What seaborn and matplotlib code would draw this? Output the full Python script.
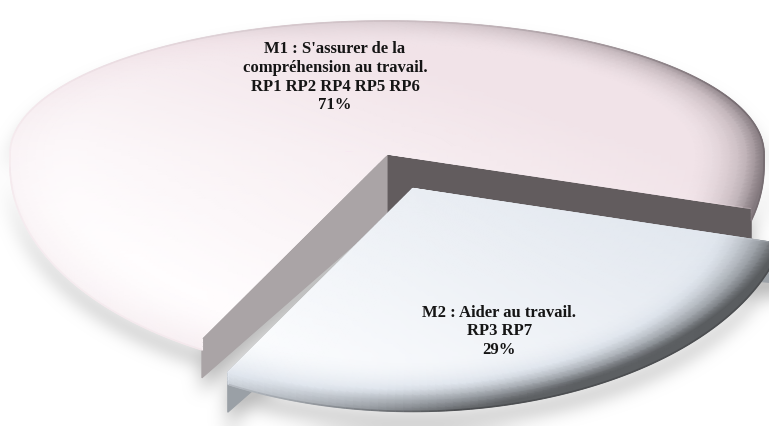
import numpy as np
import matplotlib
matplotlib.use("Agg")
import matplotlib.pyplot as plt
from matplotlib.patches import Polygon
from matplotlib.path import Path
from matplotlib.collections import LineCollection
import seaborn as sns

# ---- data -------------------------------------------------------------
categories = ["M1 : S'assurer de la\ncompréhension au travail.",
              "M2 : Aider au travail."]
groups = ["RP1 RP2 RP4 RP5 RP6", "RP3 RP7"]
shares = [71, 29]

# ---- style ------------------------------------------------------------
sns.set_theme(style="white")
plt.rcParams["font.family"] = ["Liberation Serif", "DejaVu Serif"]

face_cmaps = [
    sns.blend_palette(["#fffdfe", "#f1e3e8", "#c6b9be", "#776d72"], as_cmap=True),
    sns.blend_palette(["#fbfcfe", "#dfe5ed", "#9ca1a7", "#4c4e51"], as_cmap=True),
]
rim_dir = [0.0, -35.0]            # direction (deg) where the rim is darkest
wall_colors = [["#625c5e", "#aaa4a6"], ["#9aa0a6", "#9aa0a6"]]
explode = [0.0, 0.177]
label_radius = [0.60, 0.71]
label_turn = [-9.5, -4.0]

W, H = 769, 427
fig = plt.figure(figsize=(W / 100, H / 100), dpi=100)
ax = fig.add_axes([0, 0, 1, 1])
ax.set_xlim(0, W)
ax.set_ylim(H, 0)
ax.axis("off")

# ---- tilted view of the pie disk -------------------------------------
XC, YC = 387.0, 155.0      # centre of the pie on the canvas
AX = 377.0                 # horizontal radius
B_FAR, B_NEAR = 133.0, 211.0   # vertical radius behind / in front of centre
SIDE = 12.0                # rim thickness
WALL_IN, WALL_OUT = 62.0, 40.0  # depth of the cut faces at centre / at rim
START = -15.0


def project(X, Y, Z=0.0):
    X = np.asarray(X, float)
    Y = np.asarray(Y, float)
    by = np.where(Y > 0, B_FAR, B_NEAR)
    return XC + AX * X, YC - by * Y + SIDE * Z


fr = np.array(shares, float) / np.sum(shares)
edges = START + 360.0 * np.concatenate([[0.0], np.cumsum(fr)])
slices = []
for i in range(len(shares)):
    a0, a1 = edges[i], edges[i + 1]
    mid = np.deg2rad(0.5 * (a0 + a1))
    ox, oy = explode[i] * np.cos(mid), explode[i] * np.sin(mid)
    slices.append(dict(a0=a0, a1=a1, mid=mid, ox=ox, oy=oy))


def shade(i, X, Y, r, phi, zlev):
    base = 0.33 * np.clip(0.62 + 0.75 * (0.7 * X + 0.7 * Y), 0, 1)
    e = np.clip((r - 0.80) / 0.20, 0, 1) ** 2 + 0.4 * zlev
    q = (0.5 + 0.5 * np.cos(phi - np.deg2rad(rim_dir[i]))) ** 2.2
    m = np.clip(e * (0.10 + 0.90 * q), 0, 1)
    return np.clip(base + (1 - base) * m * 0.92, 0, 1)


def grid_triangles(nr, nc, start):
    idx = start + np.arange(nr * nc).reshape(nr, nc)
    a = idx[:-1, :-1].ravel()
    b = idx[:-1, 1:].ravel()
    c = idx[1:, :-1].ravel()
    d = idx[1:, 1:].ravel()
    return np.vstack([np.column_stack([a, b, d]), np.column_stack([a, d, c])])


def slice_mesh(i, s):
    nphi = max(40, int(abs(s["a1"] - s["a0"]) * 0.8))
    phi = np.deg2rad(np.linspace(s["a0"], s["a1"], nphi))
    # outer rim: band under the arc
    zl = np.linspace(0, 1, 4)
    PZ, ZZ = np.meshgrid(phi, zl)
    Xs, Ys = np.cos(PZ), np.sin(PZ)
    sx, sy = project(s["ox"] + Xs, s["oy"] + Ys, ZZ)
    sv = shade(i, Xs, Ys, np.ones_like(Xs), PZ, ZZ)
    tri_s = grid_triangles(len(zl), nphi, 0)
    # flat top
    rr = np.linspace(0, 1, 45)
    PT, RT = np.meshgrid(phi, rr)
    Xt, Yt = RT * np.cos(PT), RT * np.sin(PT)
    tx, ty = project(s["ox"] + Xt, s["oy"] + Yt, 0.0)
    tv = shade(i, Xt, Yt, RT, PT, 0.0)
    tri_t = grid_triangles(len(rr), nphi, sx.size)
    x = np.r_[sx.ravel(), tx.ravel()]
    y = np.r_[sy.ravel(), ty.ravel()]
    v = np.r_[sv.ravel(), tv.ravel()]
    tris = np.vstack([tri_s, tri_t])
    # visible outer contour: rim bottom in front, top arc behind
    front = (s["oy"] + np.sin(phi)) < 0
    cx = np.where(front, sx[-1], tx[-1])
    cy = np.where(front, sy[-1], ty[-1])
    cv = np.where(front, sv[-1], tv[-1])
    outline = dict(contour=(cx, cy, cv),
                   e0=(tx[:, 0], ty[:, 0], tv[:, 0]), e1=(tx[:, -1], ty[:, -1], tv[:, -1]),
                   s0=(sx[:, 0], sy[:, 0], sv[:, 0]), s1=(sx[:, -1], sy[:, -1], sv[:, -1]))
    silhouette = np.column_stack([np.r_[tx[0, 0], tx[-1], sx[-1][::-1]],
                                  np.r_[ty[0, 0], ty[-1], sy[-1][::-1]]])
    return x, y, v, tris, outline, silhouette


def wall_poly(s, ang):
    t = np.deg2rad(ang)
    cx, cy = project(s["ox"], s["oy"])
    ex, ey = project(s["ox"] + np.cos(t), s["oy"] + np.sin(t))
    return np.array([[cx, cy], [ex, ey], [ex, ey + WALL_OUT], [cx, cy + WALL_IN]], float)


meshes = [slice_mesh(i, s) for i, s in enumerate(slices)]

# ---- soft shadow under the pie ---------------------------------------
gx, gy = np.meshgrid(np.arange(W) + 0.5, np.arange(H) + 0.5)
pix = np.column_stack([gx.ravel(), gy.ravel()])
mask = np.zeros(W * H, bool)
for s, mesh in zip(slices, meshes):
    for poly in (mesh[5], wall_poly(s, s["a0"]), wall_poly(s, s["a1"])):
        mask |= Path(poly).contains_points(pix)
mask = mask.reshape(H, W).astype(float)
shift = 14
mask = np.vstack([np.zeros((shift, W)), mask[:-shift]])


def box_blur(a, r, axis):
    k = 2 * r + 1
    pad = [(0, 0), (0, 0)]
    pad[axis] = (r + 1, r)
    c = np.cumsum(np.pad(a, pad, mode="edge"), axis=axis)
    if axis == 0:
        return (c[k:] - c[:-k]) / k
    return (c[:, k:] - c[:, :-k]) / k


soft = mask
for _ in range(3):
    soft = box_blur(soft, 8, 0)
    soft = box_blur(soft, 8, 1)
shadow = np.zeros((H, W, 4))
shadow[..., :3] = 0.76
shadow[..., 3] = np.clip(soft * 1.15, 0, 1)
ax.imshow(shadow, extent=(0, W, H, 0), zorder=0, interpolation="bilinear")

# ---- slices -----------------------------------------------------------
z = 1
for i, (s, mesh) in enumerate(zip(slices, meshes)):
    x, y, v, tris, outline, _ = mesh
    for ang, col in zip((s["a0"], s["a1"]), wall_colors[i]):
        ax.add_patch(Polygon(wall_poly(s, ang), closed=True, facecolor=col,
                             edgecolor=col, lw=0.8, zorder=z))
    cmap = face_cmaps[i]
    ax.tripcolor(x, y, v, triangles=tris, shading="gouraud", cmap=cmap,
                 vmin=0, vmax=1, zorder=z + 1)
    for key in ("contour", "e0", "e1", "s0", "s1"):
        lx, ly, lv = outline[key]
        segs = np.stack([np.column_stack([lx[:-1], ly[:-1]]),
                         np.column_stack([lx[1:], ly[1:]])], axis=1)
        lw = 1.2 if key == "contour" else 0.8
        vals = np.clip(lv[:-1] + (0.1 if key == "contour" else 0.0), 0, 1)
        ax.add_collection(LineCollection(segs, colors=cmap(vals), linewidths=lw,
                                         zorder=z + 2))
    z += 10

# ---- labels -----------------------------------------------------------
for i, s in enumerate(slices):
    ang = s["mid"] + np.deg2rad(label_turn[i])
    lx, ly = project(s["ox"] + label_radius[i] * np.cos(ang),
                     s["oy"] + label_radius[i] * np.sin(ang))
    txt = f"{categories[i]}\n{groups[i]}\n{shares[i]}%"
    ax.text(float(lx), float(ly), txt, ha="center", va="center",
            fontsize=12, fontweight="bold", color="#151515",
            linespacing=1.22, zorder=100)

fig.savefig("out.png", dpi=100)
